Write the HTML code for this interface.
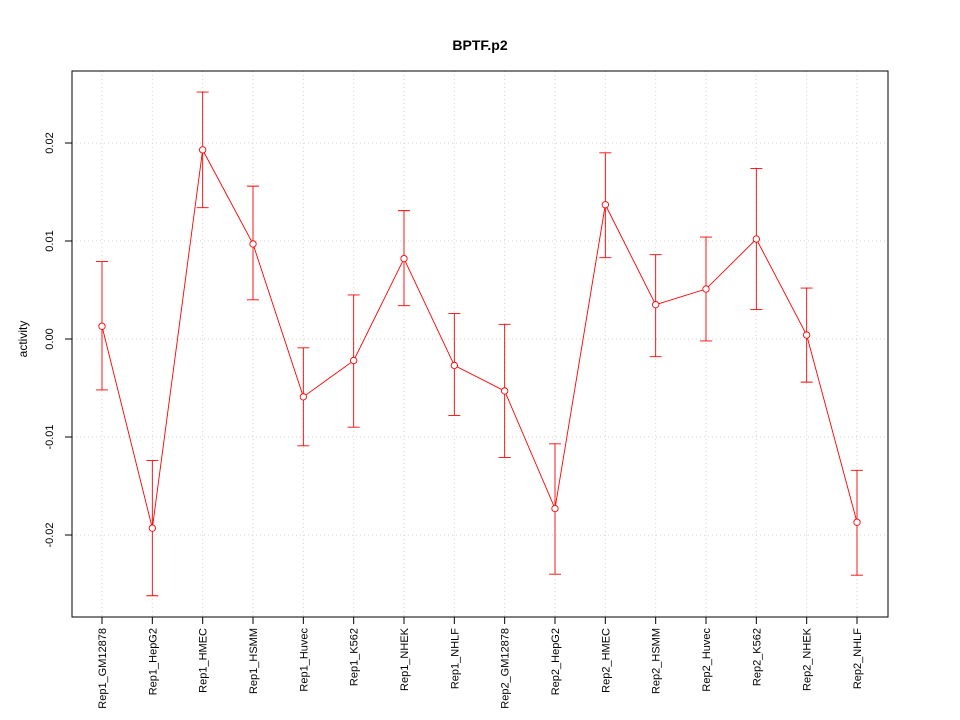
<!DOCTYPE html>
<html><head><meta charset="utf-8"><style>body{margin:0;background:#fff}svg{display:block;font-family:"Liberation Sans",sans-serif}</style></head>
<body>
<svg id="chart" width="960" height="720">
<rect width="960" height="720" fill="#fff"/>
<text x="480" y="50" text-anchor="middle" font-weight="bold" font-size="14">BPTF.p2</text>
<text transform="translate(27,339) rotate(-90)" text-anchor="middle" font-size="12">activity</text>
<g id="grid"></g><g id="axes"></g><g id="marks"></g>
<rect x="72" y="71" width="816" height="546" fill="none" stroke="#000"/>
</svg>
<script>
const categories=["Rep1_GM12878","Rep1_HepG2","Rep1_HMEC","Rep1_HSMM","Rep1_Huvec","Rep1_K562","Rep1_NHEK","Rep1_NHLF","Rep2_GM12878","Rep2_HepG2","Rep2_HMEC","Rep2_HSMM","Rep2_Huvec","Rep2_K562","Rep2_NHEK","Rep2_NHLF"];
const values=[0.0013,-0.0193,0.0193,0.0097,-0.0059,-0.0022,0.0082,-0.0027,-0.0053,-0.0173,0.0137,0.0035,0.0051,0.0102,0.0004,-0.0187];
const upper=[0.0079,-0.0124,0.0252,0.0156,-0.0009,0.0045,0.0131,0.0026,0.0015,-0.0107,0.0190,0.0086,0.0104,0.0174,0.0052,-0.0134];
const lower=[-0.0052,-0.0262,0.0134,0.0040,-0.0109,-0.0090,0.0034,-0.0078,-0.0121,-0.0240,0.0083,-0.0018,-0.0002,0.0030,-0.0044,-0.0241];
const yTicks=[-0.02,-0.01,0,0.01,0.02];
const yTickLabels=["-0.02","-0.01","0.00","0.01","0.02"];
const NS="http://www.w3.org/2000/svg";
const xs=i=>102+i*(857-102)/(categories.length-1);
const ys=v=>339-v*9800;
function mk(p,tag,a){const e=document.createElementNS(NS,tag);for(const k in a)e.setAttribute(k,a[k]);document.getElementById(p).appendChild(e);return e;}
categories.forEach((c,i)=>{
 let g=mk('grid','line',{x1:xs(i),x2:xs(i),y1:71,y2:617,stroke:'#d3d3d3','stroke-dasharray':'1,3'});
 
 
 let t=mk('axes','line',{x1:xs(i),x2:xs(i),y1:617,y2:624,stroke:'#000'});
 
 
 let l=mk('axes','text',{transform:`translate(${xs(i)+4},628) rotate(-90)`,'text-anchor':'end','font-size':'11'});
 l.textContent=c;
 
 
});
yTicks.forEach((v,i)=>{
 let g=mk('grid','line',{x1:72,x2:888,y1:ys(v),y2:ys(v),stroke:'#d3d3d3','stroke-dasharray':'1,3'});
 
 
 let t=mk('axes','line',{x1:65,x2:72,y1:ys(v),y2:ys(v),stroke:'#000'});
 
 
 let l=mk('axes','text',{transform:`translate(53,${ys(v)}) rotate(-90)`,'text-anchor':'middle','font-size':'11'});
 l.textContent=yTickLabels[i];
 
 
});
let line=mk('marks','polyline',{points:values.map((v,i)=>xs(i)+','+ys(v)).join(' '),fill:'none',stroke:'#f00','stroke-width':'0.9'});


values.forEach((v,i)=>{
 const x=xs(i);
 let e=mk('marks','path',{d:`M${x},${ys(upper[i])}V${ys(lower[i])}M${x-6},${ys(upper[i])}H${x+6}M${x-6},${ys(lower[i])}H${x+6}`,stroke:'#f00',fill:'none','stroke-width':'0.9'});
 
 
 let p=mk('marks','circle',{cx:x,cy:ys(v),r:3.2,fill:'#fff',stroke:'#f00','stroke-width':'0.9'});
 
 
});
</script>
</body></html>
